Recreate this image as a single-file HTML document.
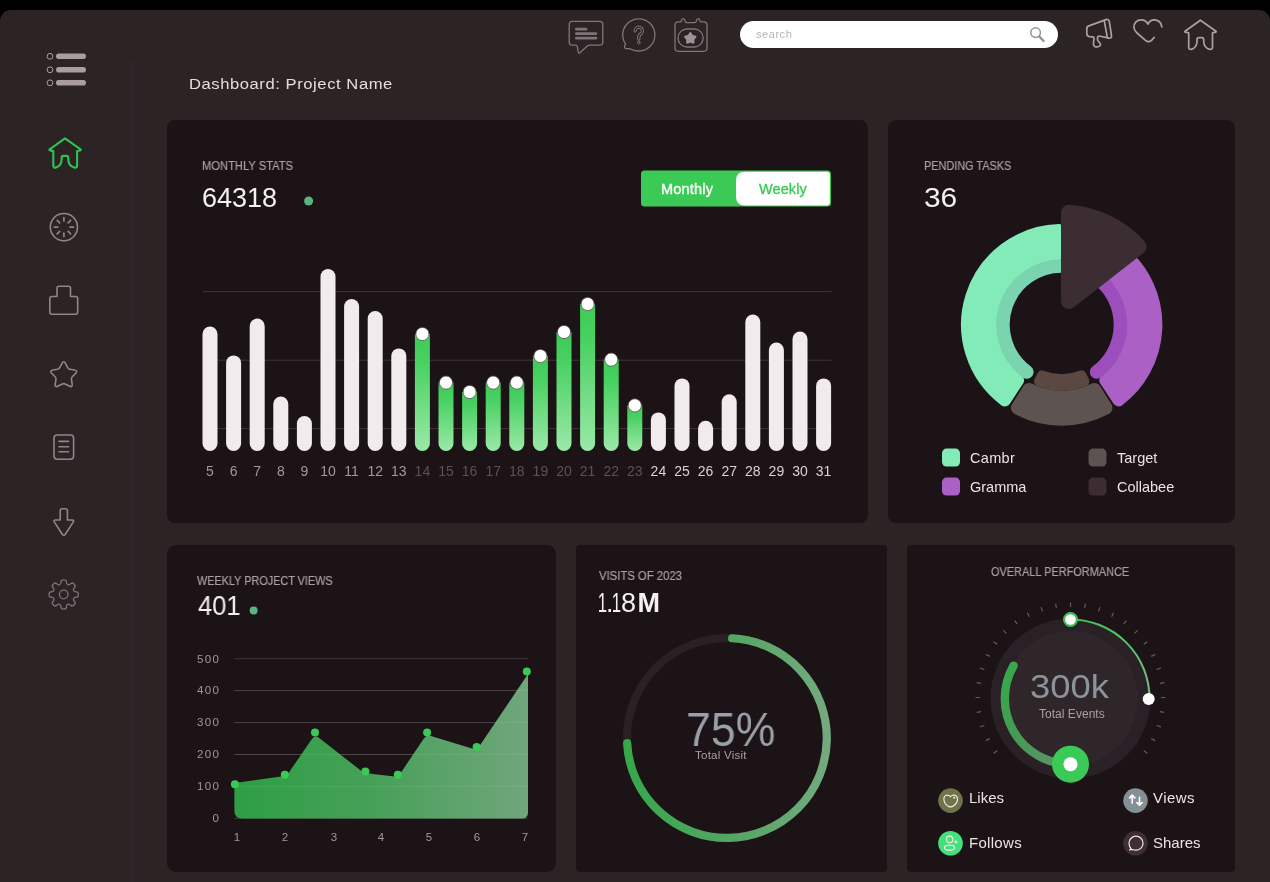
<!DOCTYPE html>
<html lang="en">
<head>
<meta charset="utf-8">
<title>Dashboard: Project Name</title>
<style>
*{margin:0;padding:0;box-sizing:border-box}
html,body{width:1270px;height:882px;overflow:hidden;background:#000}
body{position:relative;font-family:"Liberation Sans",sans-serif;color:#f4efef}
#app{position:absolute;left:0;top:10px;width:1270px;height:872px;background:#2c2325;border-radius:11px 11px 0 0}
.divider{position:absolute;left:130px;top:60px;width:5.4px;height:822px;background:#2f2429}
.card{position:absolute;background:#1c1317}
.abs{position:absolute;white-space:nowrap;line-height:1;will-change:transform;transform-origin:0 50%}
.cap{font-size:12px;color:#ad9fa1;-webkit-text-stroke:.2px #ad9fa1}
.big{font-size:27px;color:#f6f1f1}
svg{position:absolute;left:0;top:0;overflow:visible}
svg text{font-family:"Liberation Sans",sans-serif}
svg{will-change:transform}
.n1{display:inline-block;transform:scaleX(.62);margin:0 -3.5px}
.lg{font-size:14.5px;color:#ebe4e5}
.lg2{font-size:15px;color:#ebe4e5}
.ax{font-size:11.5px;color:#a39799}
</style>
</head>
<body>
<div id="app"></div>
<div class="divider"></div>

<!-- title -->
<div class="abs" style="left:188.9px;top:76.3px;font-size:15.5px;letter-spacing:.53px;transform:scaleX(1.07);color:#e4dcdd">Dashboard: Project Name</div>

<!-- search -->
<div class="abs" style="left:740px;top:21px;width:318px;height:27px;border-radius:14px;background:#fff"></div>
<div class="abs" style="left:755.5px;top:29px;font-size:11px;color:#b9b2b2;letter-spacing:.55px">search</div>

<!-- cards -->
<div class="card" style="left:167px;top:120px;width:701px;height:403px;border-radius:8px"></div>
<div class="card" style="left:888px;top:120px;width:346.5px;height:403px;border-radius:8px"></div>
<div class="card" style="left:167px;top:545px;width:388.5px;height:327px;border-radius:9px"></div>
<div class="card" style="left:575.5px;top:544.5px;width:311.5px;height:327.5px;border-radius:4px"></div>
<div class="card" style="left:906.5px;top:544.5px;width:328px;height:327.5px;border-radius:4px"></div>

<!-- all vector graphics in page coordinates -->
<svg width="1270" height="882" viewBox="0 0 1270 882">
<defs>
<linearGradient id="gbar" x1="0" y1="0" x2="0" y2="1"><stop offset="0" stop-color="#3ccb56"/><stop offset=".25" stop-color="#49d162"/><stop offset="1" stop-color="#9be9a8"/></linearGradient>
<linearGradient id="garea" gradientUnits="userSpaceOnUse" x1="234" y1="0" x2="528" y2="0"><stop offset="0" stop-color="#2d9f44"/><stop offset=".45" stop-color="#45a057"/><stop offset="1" stop-color="#70a67b"/></linearGradient>
<linearGradient id="gring" gradientUnits="userSpaceOnUse" x1="623" y1="0" x2="831" y2="0"><stop offset="0" stop-color="#35a849"/><stop offset=".5" stop-color="#52a662"/><stop offset="1" stop-color="#74aa7f"/></linearGradient>
<linearGradient id="gthick" gradientUnits="userSpaceOnUse" x1="1005" y1="670" x2="1060" y2="765"><stop offset="0" stop-color="#38a84c"/><stop offset=".6" stop-color="#459a55"/><stop offset="1" stop-color="#5c9466"/></linearGradient>
<linearGradient id="gthin" gradientUnits="userSpaceOnUse" x1="1070" y1="620" x2="1149" y2="699"><stop offset="0" stop-color="#3cc254"/><stop offset="1" stop-color="#79bb85"/></linearGradient>
<path id="house" d="M16.4 1.2L32 12.2Q32.5 13 31.5 13.2L28.5 13.9L28.5 28.6Q28.3 30.8 25.7 30.4Q20.2 28.8 19.7 23L19.7 20.7Q19.7 18.7 17.7 18.7L15 18.7Q13 18.7 13 20.7L13 23Q12.5 28.8 7.3 30.4Q4.9 30.8 4.7 28.6L4.7 13.9L1.5 13.2Q.4 13 1 12.2Z"/>
</defs>

<!-- hamburger -->
<g fill="#a99d9e">
<rect x="56" y="53.5" width="30" height="5.6" rx="2.8"/><rect x="56" y="67" width="30" height="5.6" rx="2.8"/><rect x="56" y="80" width="30" height="5.6" rx="2.8"/>
</g>
<g fill="none" stroke="#a99d9e" stroke-width="1"><circle cx="50" cy="56.3" r="2.9"/><circle cx="50" cy="69.8" r="2.9"/><circle cx="50" cy="82.8" r="2.9"/></g>

<!-- sidebar icons -->
<use href="#house" x="48.6" y="137.2" fill="none" stroke="#2fc24f" stroke-width="2.1" stroke-linejoin="round"/>
<g fill="none" stroke="#90868a" stroke-width="1.6" stroke-linecap="round" stroke-linejoin="round">
<circle cx="63.9" cy="227.1" r="13.6"/>
<path d="M63.9 217.6v3.4M63.9 233.2v3.4M54.4 227.1h3.4M70 227.1h3.4M57.2 220.4l2.4 2.4M68.2 231.4l2.4 2.4M57.2 233.8l2.4-2.4M68.2 222.8l2.4-2.4" stroke-width="1.7"/>
<path d="M59 286.2H68.5Q70.5 286.2 70.5 288.2V296.5H75.5Q77.7 296.5 77.7 298.7V312Q77.7 314.2 75.5 314.2H52Q49.8 314.2 49.8 312V298.7Q49.8 296.5 52 296.5H57V288.2Q57 286.2 59 286.2Z"/>
<path d="M61.87 363.56Q63.7 360 65.53 363.56L67.66 367.68Q68.34 369.01 69.82 369.25L74.4 370Q78.35 370.64 75.53 373.48L72.27 376.78Q71.21 377.84 71.44 379.32L72.14 383.91Q72.75 387.86 69.18 386.06L65.04 383.97Q63.7 383.3 62.36 383.97L58.22 386.06Q54.65 387.86 55.26 383.91L55.96 379.32Q56.19 377.84 55.13 376.78L51.87 373.48Q49.05 370.64 53 370L57.58 369.25Q59.06 369.01 59.74 367.68Z"/>
<rect x="54" y="435" width="19.6" height="24.3" rx="3.2"/>
<path d="M59 441.4h9.6M59 446.8h9.6M59 451.8h9.6" stroke-width="1.6"/>
<path d="M62.2 508.8H65.4Q67.4 508.8 67.4 510.8V520H72Q74.6 520.2 73 522.4L65.3 534.2Q63.8 536.2 62.3 534.2L54.6 522.4Q53 520.2 55.6 520H60.2V510.8Q60.2 508.8 62.2 508.8Z"/>
</g>
<g fill="none" stroke="#7c7276" stroke-width="1.3" stroke-linejoin="round">
<circle cx="63.7" cy="594.5" r="4.3"/>
<path d="M59.6 584.61Q60.93 584.06 60.96 582.56L60.98 581.95Q61.02 579.84 63.22 579.84L64.18 579.84Q66.38 579.84 66.42 581.95L66.44 582.56Q66.47 584.06 67.8 584.61L67.8 584.61Q69.12 585.16 70.21 584.12L70.65 583.7Q72.17 582.24 73.73 583.8L74.4 584.47Q75.96 586.03 74.5 587.55L74.08 587.99Q73.04 589.08 73.59 590.4L73.59 590.4Q74.14 591.73 75.64 591.76L76.25 591.78Q78.36 591.82 78.36 594.02L78.36 594.98Q78.36 597.18 76.25 597.22L75.64 597.24Q74.14 597.27 73.59 598.6L73.59 598.6Q73.04 599.92 74.08 601.01L74.5 601.45Q75.96 602.97 74.4 604.53L73.73 605.2Q72.17 606.76 70.65 605.3L70.21 604.88Q69.12 603.84 67.8 604.39L67.8 604.39Q66.47 604.94 66.44 606.44L66.42 607.05Q66.38 609.16 64.18 609.16L63.22 609.16Q61.02 609.16 60.98 607.05L60.96 606.44Q60.93 604.94 59.6 604.39L59.6 604.39Q58.28 603.84 57.19 604.88L56.75 605.3Q55.23 606.76 53.67 605.2L53 604.53Q51.44 602.97 52.9 601.45L53.32 601.01Q54.36 599.92 53.81 598.6L53.81 598.6Q53.26 597.27 51.76 597.24L51.15 597.22Q49.04 597.18 49.04 594.98L49.04 594.02Q49.04 591.82 51.15 591.78L51.76 591.76Q53.26 591.73 53.81 590.4L53.81 590.4Q54.36 589.08 53.32 587.99L52.9 587.55Q51.44 586.03 53 584.47L53.67 583.8Q55.23 582.24 56.75 583.7L57.19 584.12Q58.28 585.16 59.6 584.61Z"/>
</g>

<!-- top icons left -->
<g fill="none" stroke="#7f7578" stroke-width="1.3" stroke-linejoin="round" stroke-linecap="round">
<path d="M572.4 21.3H599.6Q602.8 21.3 602.8 24.5V41.9Q602.8 45.1 599.6 45.1H590Q588.3 45.1 587 46.3L579.6 53Q578.5 53.8 578.3 52.4L577.3 46.6Q577 45.1 575.5 45.1H572.4Q569.2 45.1 569.2 41.9V24.5Q569.2 21.3 572.4 21.3Z"/>
<path d="M625.5 44.2Q622.7 40.2 622.7 34.9A16.1 16.1 0 1 1 638.8 51Q634.5 51 631.2 49.2Q629.5 48.5 627.5 48.7Q624.3 48.9 624.6 46.5Q624.9 45.2 625.5 44.2Z"/>
<path d="M678.2 21.9H680.3Q681.3 21.9 681.4 20.9Q681.7 18.6 683.2 18.6Q684.7 18.6 685 20.9Q685.2 22.6 687 22.7H694.4Q696.2 22.6 696.4 20.9Q696.7 18.6 698.2 18.6Q699.7 18.6 700 20.9Q700.1 21.9 701.1 21.9H703.8Q707 21.9 707 25.1V48.1Q707 51.3 703.8 51.3H678.2Q675 51.3 675 48.1V25.1Q675 21.9 678.2 21.9Z"/>
<rect x="678" y="29" width="25.2" height="18" rx="9"/>
</g>
<g fill="#7f7578"><rect x="575" y="27.8" width="12.4" height="2.8" rx="1.4"/><rect x="575" y="32.3" width="22.2" height="2.8" rx="1.4"/><rect x="575" y="36.8" width="22.2" height="2.8" rx="1.4"/></g>
<path d="M689.07 33Q690.3 31 691.53 33L692.24 34.15Q692.77 35 693.74 35.24L695.05 35.56Q697.34 36.11 695.82 37.91L694.94 38.94Q694.29 39.7 694.37 40.7L694.47 42.04Q694.65 44.39 692.47 43.49L691.22 42.98Q690.3 42.6 689.38 42.98L688.13 43.49Q685.95 44.39 686.13 42.04L686.23 40.7Q686.31 39.7 685.66 38.94L684.78 37.91Q683.26 36.11 685.55 35.56L686.86 35.24Q687.83 35 688.36 34.15Z" fill="#9c9194"/>
<g fill="none" stroke-linecap="round" stroke-linejoin="round"><path d="M635.2 30.9A3.6 3.6 0 1 1 641.3 33.4Q638.8 35 638.8 37.2V39" stroke="#7f7578" stroke-width="3.3"/><path d="M635.2 30.9A3.6 3.6 0 1 1 641.3 33.4Q638.8 35 638.8 37.2V39" stroke="#2c2325" stroke-width="1.3"/><circle cx="638.8" cy="42.6" r="1.35" stroke="#7f7578" stroke-width="1"/></g>

<!-- search magnifier -->
<g fill="none" stroke="#9a8f91" stroke-linecap="round"><circle cx="1035.6" cy="32.6" r="4.8" stroke-width="1.5"/><path d="M1039.4 36.6L1043.6 41" stroke-width="2.3"/></g>

<!-- top icons right -->
<g fill="none" stroke="#aba0a2" stroke-width="1.7" stroke-linejoin="round" stroke-linecap="round">
<path d="M1089.5 25.6L1106 19.6Q1108.6 18.8 1109.3 21.5L1111.5 35.5Q1111.8 38.6 1108.8 38.2L1099.3 36Q1097.5 36 1097.4 38.5Q1097.3 41 1099.8 43Q1101.5 45 1099.3 46.2Q1097 47.2 1095 46.6Q1093.3 46 1093.4 44L1094 38Q1094 36.9 1092.5 36.8L1089.5 36.6Q1086.8 36.3 1086.8 33.5L1086.8 28.5Q1086.8 26.2 1089.5 25.6Z"/>
<path d="M1104.4 21.5L1107.3 37.4"/>
<path d="M1161.9 27C1161.5 22 1157.5 19.8 1154.4 19.8C1151.5 19.8 1149 21.5 1147.9 24.2C1146.8 21.5 1144 19.8 1141 19.8C1137 19.8 1133.9 23 1133.9 27.3C1133.9 30 1135.5 31.5 1137 33L1145.5 40.3C1147.5 42 1149.5 42 1151.5 40.3L1154.2 37.4"/>
<use href="#house" x="1184" y="19"/>
</g>

<!-- ============ card 1: bar chart ============ -->
<circle cx="308.6" cy="201" r="4.5" fill="#5cb37d"/>
<g stroke="#40353a" stroke-width="1"><path d="M203 291.6H831.5M203 360.2H831.5M203 428.6H831.5"/></g>
<rect x="202.5" y="326.6" width="15" height="124.4" rx="7.5" fill="#f1ebed"/>
<rect x="226.1" y="355.4" width="15" height="95.6" rx="7.5" fill="#f1ebed"/>
<rect x="249.7" y="318.6" width="15" height="132.4" rx="7.5" fill="#f1ebed"/>
<rect x="273.3" y="396.6" width="15" height="54.4" rx="7.5" fill="#f1ebed"/>
<rect x="296.9" y="416" width="15" height="35" rx="7.5" fill="#f1ebed"/>
<rect x="320.5" y="269" width="15" height="182" rx="7.5" fill="#f1ebed"/>
<rect x="344.1" y="299" width="15" height="152" rx="7.5" fill="#f1ebed"/>
<rect x="367.7" y="311" width="15" height="140" rx="7.5" fill="#f1ebed"/>
<rect x="391.3" y="348.4" width="15" height="102.6" rx="7.5" fill="#f1ebed"/>
<path d="M414.9 334H429.9V443.5A7.5 7.5 0 0 1 414.9 443.5Z" fill="url(#gbar)"/>
<circle cx="422.4" cy="334" r="6.6" fill="#fff" stroke="#5a4a4e" stroke-width="0.8"/>
<path d="M438.5 382.6H453.5V443.5A7.5 7.5 0 0 1 438.5 443.5Z" fill="url(#gbar)"/>
<circle cx="446" cy="382.6" r="6.6" fill="#fff" stroke="#5a4a4e" stroke-width="0.8"/>
<path d="M462.1 392H477.1V443.5A7.5 7.5 0 0 1 462.1 443.5Z" fill="url(#gbar)"/>
<circle cx="469.6" cy="392" r="6.6" fill="#fff" stroke="#5a4a4e" stroke-width="0.8"/>
<path d="M485.7 382.6H500.7V443.5A7.5 7.5 0 0 1 485.7 443.5Z" fill="url(#gbar)"/>
<circle cx="493.2" cy="382.6" r="6.6" fill="#fff" stroke="#5a4a4e" stroke-width="0.8"/>
<path d="M509.3 382.6H524.3V443.5A7.5 7.5 0 0 1 509.3 443.5Z" fill="url(#gbar)"/>
<circle cx="516.8" cy="382.6" r="6.6" fill="#fff" stroke="#5a4a4e" stroke-width="0.8"/>
<path d="M532.9 356H547.9V443.5A7.5 7.5 0 0 1 532.9 443.5Z" fill="url(#gbar)"/>
<circle cx="540.4" cy="356" r="6.6" fill="#fff" stroke="#5a4a4e" stroke-width="0.8"/>
<path d="M556.5 332H571.5V443.5A7.5 7.5 0 0 1 556.5 443.5Z" fill="url(#gbar)"/>
<circle cx="564" cy="332" r="6.6" fill="#fff" stroke="#5a4a4e" stroke-width="0.8"/>
<path d="M580.1 304H595.1V443.5A7.5 7.5 0 0 1 580.1 443.5Z" fill="url(#gbar)"/>
<circle cx="587.6" cy="304" r="6.6" fill="#fff" stroke="#5a4a4e" stroke-width="0.8"/>
<path d="M603.7 359.6H618.7V443.5A7.5 7.5 0 0 1 603.7 443.5Z" fill="url(#gbar)"/>
<circle cx="611.2" cy="359.6" r="6.6" fill="#fff" stroke="#5a4a4e" stroke-width="0.8"/>
<path d="M627.3 405.4H642.3V443.5A7.5 7.5 0 0 1 627.3 443.5Z" fill="url(#gbar)"/>
<circle cx="634.8" cy="405.4" r="6.6" fill="#fff" stroke="#5a4a4e" stroke-width="0.8"/>
<rect x="650.9" y="412.4" width="15" height="38.6" rx="7.5" fill="#f1ebed"/>
<rect x="674.5" y="378.4" width="15" height="72.6" rx="7.5" fill="#f1ebed"/>
<rect x="698.1" y="420.8" width="15" height="30.2" rx="7.5" fill="#f1ebed"/>
<rect x="721.7" y="394.3" width="15" height="56.7" rx="7.5" fill="#f1ebed"/>
<rect x="745.3" y="314.5" width="15" height="136.5" rx="7.5" fill="#f1ebed"/>
<rect x="768.9" y="342.6" width="15" height="108.4" rx="7.5" fill="#f1ebed"/>
<rect x="792.5" y="331.5" width="15" height="119.5" rx="7.5" fill="#f1ebed"/>
<rect x="816.1" y="378.4" width="15" height="72.6" rx="7.5" fill="#f1ebed"/>
<g font-size="14" text-anchor="middle">
<text x="210" y="476.4" fill="#a3989b">5</text>
<text x="233.6" y="476.4" fill="#a3989b">6</text>
<text x="257.2" y="476.4" fill="#a3989b">7</text>
<text x="280.8" y="476.4" fill="#a3989b">8</text>
<text x="304.4" y="476.4" fill="#a3989b">9</text>
<text x="328" y="476.4" fill="#a3989b">10</text>
<text x="351.6" y="476.4" fill="#a3989b">11</text>
<text x="375.2" y="476.4" fill="#a3989b">12</text>
<text x="398.8" y="476.4" fill="#a3989b">13</text>
<text x="422.4" y="476.4" fill="#5d5155">14</text>
<text x="446" y="476.4" fill="#5d5155">15</text>
<text x="469.6" y="476.4" fill="#5d5155">16</text>
<text x="493.2" y="476.4" fill="#5d5155">17</text>
<text x="516.8" y="476.4" fill="#5d5155">18</text>
<text x="540.4" y="476.4" fill="#5d5155">19</text>
<text x="564" y="476.4" fill="#5d5155">20</text>
<text x="587.6" y="476.4" fill="#5d5155">21</text>
<text x="611.2" y="476.4" fill="#5d5155">22</text>
<text x="634.8" y="476.4" fill="#5d5155">23</text>
<text x="658.4" y="476.4" fill="#d9d2d4">24</text>
<text x="682" y="476.4" fill="#d9d2d4">25</text>
<text x="705.6" y="476.4" fill="#d9d2d4">26</text>
<text x="729.2" y="476.4" fill="#d9d2d4">27</text>
<text x="752.8" y="476.4" fill="#d9d2d4">28</text>
<text x="776.4" y="476.4" fill="#d9d2d4">29</text>
<text x="800" y="476.4" fill="#d9d2d4">30</text>
<text x="823.6" y="476.4" fill="#d9d2d4">31</text>
</g>
<rect x="641" y="170.5" width="190" height="36" rx="3.5" fill="#3cca56"/>
<path d="M745 171.8H827Q829.8 171.8 829.8 174.6V202.6Q829.8 205.4 827 205.4H745Q736 205.4 736 196.4V180.8Q736 171.8 745 171.8Z" fill="#fff"/>

<!-- ============ card 2: donut ============ -->
<path d="M1004.8 400.4A94.7 94.7 0 0 1 1059 230.04L1058.16 254.29A70.5 70.5 0 0 0 1018.12 380.12Z" fill="#82ebb8" stroke="#82ebb8" stroke-width="12" stroke-linejoin="round"/>
<path d="M1124.61 253.92A94.7 94.7 0 0 1 1118.6 400.4L1105.28 380.12A70.5 70.5 0 0 0 1109.67 273.04Z" fill="#ab60c5" stroke="#ab60c5" stroke-width="12" stroke-linejoin="round"/>
<path d="M1105.44 407.9A94 94 0 0 1 1017.96 407.9L1029.13 390.03A73 73 0 0 0 1094.27 390.03Z" fill="#5d5351" stroke="#5d5351" stroke-width="14" stroke-linejoin="round"/>
<path d="M1026.84 371.99A58.75 58.75 0 0 1 1063.75 265.99" fill="none" stroke="#7bd4b0" stroke-width="13.5" stroke-linecap="round"/>
<path d="M1097.87 278.4A58.75 58.75 0 0 1 1096.56 371.99" fill="none" stroke="#9c4fbc" stroke-width="13.5" stroke-linecap="round"/>
<path d="M1084.35 381.34A61 61 0 0 1 1039.05 381.34L1041.96 375.5A54.5 54.5 0 0 0 1081.44 375.5Z" fill="#5b4843" stroke="#5b4843" stroke-width="10" stroke-linejoin="round"/>
<path d="M1069 301L1069 212.71A105 105 0 0 1 1138.58 246.64Z" fill="#3c2d33" stroke="#3c2d33" stroke-width="16" stroke-linejoin="round"/>
<rect x="942" y="448.6" width="18" height="18" rx="4.5" fill="#82ebb8"/>
<rect x="942" y="477.6" width="18" height="18" rx="4.5" fill="#ab60c5"/>
<rect x="1088.5" y="448.6" width="18" height="18" rx="4.5" fill="#5d5351"/>
<rect x="1088.5" y="477.6" width="18" height="18" rx="4.5" fill="#3c2d33"/>

<!-- ============ card 3: area chart ============ -->
<circle cx="253.6" cy="610.6" r="4" fill="#5cb37d"/>
<path d="M234.4 658.7H528M234.4 690.6H528M234.4 722.6H528M234.4 754.5H528M234.4 786.5H528M234.4 818.4H528" stroke="#41363a" stroke-width="1"/>
<path d="M234.4 783L284.8 776Q286.8 775.6 288 773.8L311.5 739.5Q315 734.5 319.2 738L362 771.5Q364 773 366.5 773.3L394.5 776.6Q398 777 400 774L423.5 739Q426.5 734.5 431 736L472 748.6Q476.5 750 479.5 746L528 674V812.4Q528 818.4 522 818.4H242.4Q234.4 818.4 234.4 810.4Z" fill="url(#garea)"/>
<path d="M234.4 690.6H528M234.4 722.6H528M234.4 754.5H528M234.4 786.5H528" stroke="#fff" stroke-opacity=".08" stroke-width="1"/>
<g fill="#3bca55"><circle cx="234.9" cy="784.2" r="4"/><circle cx="284.8" cy="774.7" r="4"/><circle cx="315" cy="732.6" r="4"/><circle cx="365.4" cy="771.5" r="4"/><circle cx="397.8" cy="774.7" r="4"/><circle cx="427.1" cy="732.4" r="4"/><circle cx="476.6" cy="747" r="4"/><circle cx="526.8" cy="671.6" r="4"/></g>

<!-- ============ card 4: ring ============ -->
<circle cx="726.9" cy="738" r="99.9" fill="none" stroke="#2a2126" stroke-width="8"/>
<path d="M732.13 638.24A99.9 99.9 0 1 1 627.14 743.23" fill="none" stroke="url(#gring)" stroke-width="8.2" stroke-linecap="round"/>

<!-- ============ card 5: gauge ============ -->
<path d="M997.2 750.75L993.64 753.34M989.77 738.63L985.85 740.63M984.33 725.5L980.15 726.86M981.02 711.67L976.67 712.36M979.9 697.5L975.5 697.5M981.02 683.33L976.67 682.64M984.33 669.5L980.15 668.14M989.77 656.37L985.85 654.37M997.2 644.25L993.64 641.66M1006.44 633.44L1003.32 630.32M1017.25 624.2L1014.66 620.64M1029.37 616.77L1027.37 612.85M1042.5 611.33L1041.14 607.15M1056.33 608.02L1055.64 603.67M1070.5 606.9L1070.5 602.5M1084.67 608.02L1085.36 603.67M1098.5 611.33L1099.86 607.15M1111.63 616.77L1113.63 612.85M1123.75 624.2L1126.34 620.64M1134.56 633.44L1137.68 630.32M1143.8 644.25L1147.36 641.66M1151.23 656.37L1155.15 654.37M1156.67 669.5L1160.85 668.14M1159.98 683.33L1164.33 682.64M1161.1 697.5L1165.5 697.5M1159.98 711.67L1164.33 712.36M1156.67 725.5L1160.85 726.86M1151.23 738.63L1155.15 740.63M1143.8 750.75L1147.36 753.34" stroke="#675b5e" stroke-width="1.2"/>
<circle cx="1070.5" cy="698.5" r="80" fill="#2a2126"/>
<circle cx="1070.5" cy="698.5" r="67.5" fill="#2f262a"/>
<path d="M1070.5 764.2A65.7 65.7 0 0 1 1013.6 665.65" fill="none" stroke="url(#gthick)" stroke-width="8.4" stroke-linecap="round"/>
<path d="M1070.5 619.5A79 79 0 0 1 1149.5 698.5" fill="none" stroke="url(#gthin)" stroke-width="2"/>
<circle cx="1070.5" cy="764.2" r="18.5" fill="#3cca56"/><circle cx="1070.5" cy="764.2" r="7" fill="#fff"/>
<circle cx="1070.5" cy="619.5" r="6.4" fill="#fff" stroke="#3cc254" stroke-width="2.2"/>
<circle cx="1148.7" cy="698.9" r="6" fill="#fff"/>
<!-- legend bubbles -->
<circle cx="950.5" cy="800.6" r="12.3" fill="#6e7349"/>
<circle cx="950.5" cy="843.2" r="12.3" fill="#43e17b"/>
<circle cx="1135.5" cy="800.6" r="12.3" fill="#858f96"/>
<circle cx="1135.5" cy="843.2" r="12.3" fill="#3d2f35"/>
<g fill="none" stroke="#f0e9df" stroke-width="1.2" stroke-linecap="round" stroke-linejoin="round">
<path d="M950.4 796.6Q952.5 794.7 955 795.3Q957.6 796.2 957.5 799.4Q957.2 803.8 952.6 806.4Q950.6 807.4 948.6 806.4Q944.4 804 943.9 799.8Q943.6 796.2 946.4 795.3Q948.6 794.7 950.4 796.6Z"/>
<circle cx="949.7" cy="839.4" r="3.2"/><ellipse cx="949.5" cy="847.7" rx="5" ry="2.5"/>
<path d="M1131.2 848.8Q1129 846.6 1129 843.2A7 7 0 1 1 1136 850.2Q1134 850.2 1132.4 849.5L1129.6 850Z" stroke="#f3e3ea"/>
</g>
<path d="M955.9 839.6L956.6 841.2L958.2 841.9L956.6 842.6L955.9 844.2L955.2 842.6L953.6 841.9L955.2 841.2Z" fill="#f0e9df"/>
<circle cx="954.2" cy="797.8" r="1" fill="#f0e9df"/>
<g fill="none" stroke="#fff" stroke-width="1.7" stroke-linecap="round" stroke-linejoin="round"><path d="M1132.2 803V795.4M1129.6 797.8L1132.2 795.2L1134.8 797.8M1139.5 797.4V805M1136.9 802.6L1139.5 805.2L1142.1 802.6"/></g>
</svg>

<!-- ============ text ============ -->
<div class="abs cap" style="left:202.1px;top:160px;transform:scaleX(.931)">MONTHLY STATS</div>
<div class="abs big" style="left:202px;top:184.5px">64318</div>
<div class="abs" style="left:660.5px;top:181.5px;font-size:14.5px;color:#fff;letter-spacing:.2px;-webkit-text-stroke:.35px #fff">Monthly</div>
<div class="abs" style="left:759.2px;top:181.5px;font-size:14.5px;color:#3cca56;letter-spacing:.1px;-webkit-text-stroke:.35px #3cca56">Weekly</div>

<div class="abs cap" style="left:923.5px;top:160px;transform:scaleX(.907)">PENDING TASKS</div>
<div class="abs big" style="left:923.5px;top:184.5px;transform:scaleX(1.107)">36</div>
<div class="abs lg" style="left:969.5px;top:451.4px;letter-spacing:.3px">Cambr</div>
<div class="abs lg" style="left:969.5px;top:480px">Gramma</div>
<div class="abs lg" style="left:1117.2px;top:451.4px">Target</div>
<div class="abs lg" style="left:1116.5px;top:480px">Collabee</div>

<div class="abs cap" style="left:197.4px;top:574.6px;transform:scaleX(.904)">WEEKLY PROJECT VIEWS</div>
<div class="abs big" style="left:198px;top:592.5px;transform:scaleX(.945)">401</div>
<div class="abs ax" style="left:180px;width:40.2px;text-align:right;letter-spacing:1.3px;top:653.5px">500</div>
<div class="abs ax" style="left:180px;width:40.2px;text-align:right;letter-spacing:1.3px;top:685.4px">400</div>
<div class="abs ax" style="left:180px;width:40.2px;text-align:right;letter-spacing:1.3px;top:717.4px">300</div>
<div class="abs ax" style="left:180px;width:40.2px;text-align:right;letter-spacing:1.3px;top:749.3px">200</div>
<div class="abs ax" style="left:180px;width:40.2px;text-align:right;letter-spacing:1.3px;top:781.3px">100</div>
<div class="abs ax" style="left:180px;width:40.2px;text-align:right;letter-spacing:1.3px;top:813.2px">0</div>
<div class="abs ax" style="left:226.6px;width:20px;text-align:center;top:832.3px">1</div>
<div class="abs ax" style="left:275.3px;width:20px;text-align:center;top:832.3px">2</div>
<div class="abs ax" style="left:323.7px;width:20px;text-align:center;top:832.3px">3</div>
<div class="abs ax" style="left:371.3px;width:20px;text-align:center;top:832.3px">4</div>
<div class="abs ax" style="left:419.2px;width:20px;text-align:center;top:832.3px">5</div>
<div class="abs ax" style="left:466.8px;width:20px;text-align:center;top:832.3px">6</div>
<div class="abs ax" style="left:514.6px;width:20px;text-align:center;top:832.3px">7</div>

<div class="abs cap" style="left:599.4px;top:569.8px;transform:scaleX(.943)">VISITS OF 2023</div>
<div class="abs big" style="left:598px;top:590.4px"><span class="n1">1</span><span style="letter-spacing:-1.5px">.</span><span class="n1" style="margin-right:-2.5px">1</span><span style="letter-spacing:1.5px">8</span><b>M</b></div>
<div class="abs" style="left:685.7px;top:706.2px;font-size:48px;color:#9aa0a8;transform:scaleX(.929)">75%</div>
<div class="abs" style="left:694.5px;top:749.8px;font-size:11.5px;color:#ad9fa1;letter-spacing:.25px">Total Visit</div>

<div class="abs cap" style="left:990.6px;top:566.4px;transform:scaleX(.912)">OVERALL PERFORMANCE</div>
<div class="abs" style="left:1030.3px;top:669.6px;font-size:33px;color:#8d939b;transform:scaleX(1.103)">300k</div>
<div class="abs" style="left:1039px;top:708.2px;font-size:12px;color:#ad9fa1;letter-spacing:.03px">Total Events</div>
<div class="abs lg2" style="left:968.6px;top:790.2px">Likes</div>
<div class="abs lg2" style="left:968.6px;top:834.6px;letter-spacing:.3px">Follows</div>
<div class="abs lg2" style="left:1153.4px;top:790.2px;letter-spacing:.45px">Views</div>
<div class="abs lg2" style="left:1153.4px;top:834.6px">Shares</div>
</body>
</html>
